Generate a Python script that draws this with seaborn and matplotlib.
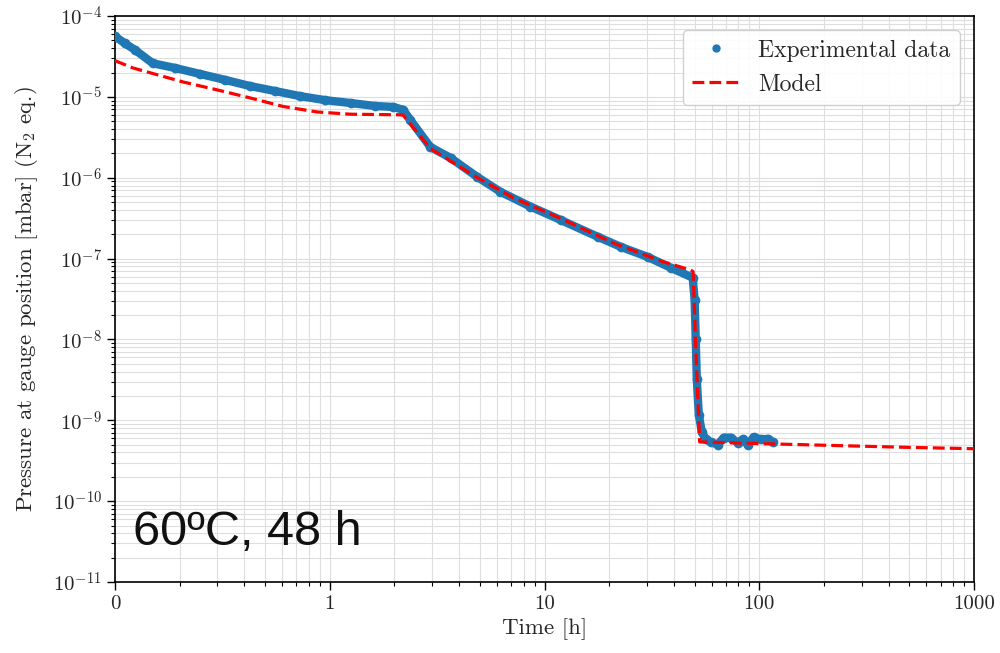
import numpy as np
import pandas as pd
import seaborn as sns
import matplotlib.pyplot as plt
from matplotlib.lines import Line2D
from matplotlib.ticker import FixedLocator, FuncFormatter, LogLocator, NullFormatter

# Experimental data (time in h, shifted so that "0" sits at 0.1 on the log axis)
exp_time = [0.1, 0.111, 0.124, 0.150, 0.190, 0.249, 0.326, 0.426, 0.557, 0.73,
            0.953, 1.25, 1.63, 1.98, 2.2, 2.37, 2.94, 3.65, 4.87, 6.23,
            8.6, 11.9, 17.7, 22.6, 30.2, 38.7, 49.0, 50.0, 50.6, 51.2,
            52.3, 54.0, 56.3, 59.4, 64.0, 68.3, 73.6, 79.4, 83.8, 88.4,
            94.2, 101.6, 109.6, 115.6]
exp_pressure = [5.6e-5, 4.6e-5, 3.8e-5, 2.6e-5, 2.28e-5, 1.92e-5, 1.62e-5, 1.36e-5, 1.18e-5, 1.02e-5,
                9.1e-6, 8.4e-6, 7.7e-6, 7.5e-6, 6.9e-6, 5.2e-6, 2.4e-6, 1.76e-6, 1.02e-6, 6.7e-7,
                4.4e-7, 3.0e-7, 1.86e-7, 1.4e-7, 1.05e-7, 7.7e-8, 5.8e-8, 3.1e-8, 1.0e-8, 3.2e-9,
                1.17e-9, 7.2e-10, 5.8e-10, 5.4e-10, 5.0e-10, 6.1e-10, 6.1e-10, 5.3e-10, 5.8e-10, 5.0e-10,
                6.2e-10, 5.8e-10, 5.9e-10, 5.4e-10]

# Model curve
model_time = [0.1, 0.121, 0.207, 0.299, 0.426, 0.607, 0.875, 1.25, 2.13, 2.2,
              2.94, 4.87, 7.2, 12.0, 21.0, 35.0, 48.0, 49.2, 50.8, 52.8,
              117.0, 457.0, 1000.0]
model_pressure = [2.8e-5, 2.28e-5, 1.53e-5, 1.22e-5, 9.7e-6, 7.6e-6, 6.5e-6, 6.1e-6, 6.0e-6, 5.9e-6,
                  2.3e-6, 1.0e-6, 5.6e-7, 3.1e-7, 1.55e-7, 9.3e-8, 7.2e-8, 6.9e-8, 6.1e-9, 5.4e-10,
                  5.1e-10, 4.65e-10, 4.45e-10]

x_ticks = [0.1, 1, 10, 100, 1000]
x_tick_labels = ["0", "1", "10", "100", "1000"]

exp_df = pd.DataFrame({"time": exp_time, "pressure": exp_pressure})
model_df = pd.DataFrame({"time": model_time, "pressure": model_pressure})

sns.set_style("ticks")
plt.rcParams["font.family"] = "serif"
plt.rcParams["font.serif"] = ["cmr10", "DejaVu Serif"]
plt.rcParams["mathtext.fontset"] = "cm"
plt.rcParams["axes.unicode_minus"] = False

fig = plt.figure(figsize=(10, 6.53), dpi=100)
ax = fig.add_axes([0.115, 0.1087, 0.859, 0.8668])
ax.set_xscale("log")
ax.set_yscale("log")

sns.lineplot(data=exp_df, x="time", y="pressure", ax=ax, color="#1f77b4",
             linewidth=6, marker="o", markersize=7, markeredgewidth=0,
             zorder=3, legend=False)
sns.lineplot(data=model_df, x="time", y="pressure", ax=ax, color="red",
             linewidth=2.3, linestyle="--", zorder=4, legend=False)

ax.set_xlim(0.1, 1000)
ax.set_ylim(1e-11, 1e-4)

ax.xaxis.set_major_locator(FixedLocator(x_ticks))
ax.xaxis.set_major_formatter(FuncFormatter(lambda v, p: x_tick_labels[x_ticks.index(min(x_ticks, key=lambda t: abs(t - v)))]))
ax.xaxis.set_minor_locator(LogLocator(base=10, subs=np.arange(2, 10), numticks=20))
ax.xaxis.set_minor_formatter(NullFormatter())
ax.yaxis.set_major_locator(LogLocator(base=10, numticks=20))
ax.yaxis.set_major_formatter(FuncFormatter(lambda v, p: r"$10^{%d}$" % round(np.log10(v))))
ax.yaxis.set_minor_locator(LogLocator(base=10, subs=np.arange(2, 10), numticks=20))
ax.yaxis.set_minor_formatter(NullFormatter())

ax.tick_params(which="major", length=6, width=1.0, labelsize=15, direction="out", color="black")
ax.tick_params(which="minor", length=3, width=0.8, direction="out", color="black")
ax.grid(which="both", color="0.87", linewidth=0.8)
for s in ax.spines.values():
    s.set_color("black")
    s.set_linewidth(1.2)

ax.set_xlabel("Time [h]", fontsize=16.5)
ax.set_ylabel(r"Pressure at gauge position [mbar] (N$_2$ eq.)", fontsize=16.5, labelpad=9)

ax.text(0.021, 0.065, "60ºC, 48 h", transform=ax.transAxes, fontsize=35,
        family="Liberation Sans", color="#111111", ha="left", va="baseline")

handles = [Line2D([], [], color="#1f77b4", marker="o", linestyle="none", markersize=5),
           Line2D([], [], color="red", linestyle="--", linewidth=2.3)]
ax.legend(handles, ["Experimental data", "Model"], loc="upper right", fontsize=17,
          frameon=True, edgecolor="0.8", framealpha=0.9, borderaxespad=0.6)

fig.savefig("out.png", dpi=100)
